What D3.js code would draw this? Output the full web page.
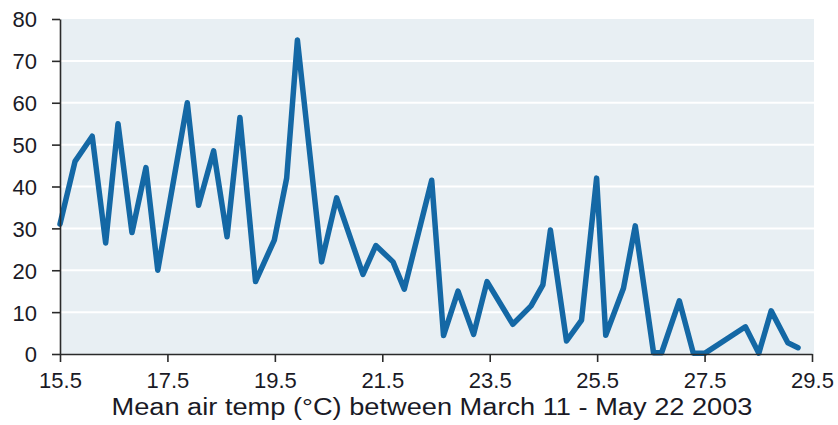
<!DOCTYPE html>
<html>
<head>
<meta charset="utf-8">
<script src="https://cdn.jsdelivr.net/npm/d3@7/dist/d3.min.js"></script>
<style>
  html, body { margin: 0; padding: 0; background: #ffffff; }
  svg { display: block; }
  .tick text { font-family: "Liberation Sans", Arial, sans-serif; fill: #1a1a26; }
</style>
</head>
<body>
<svg id="chart" width="838" height="425"></svg>
<script>
// Mean air temperature (°C) for each observation
const temps = [
  15.50, 15.78, 16.10, 16.35, 16.58, 16.84, 17.10, 17.32, 17.87, 18.08,
  18.36, 18.61, 18.85, 19.14, 19.49, 19.72, 19.92, 20.37, 20.65, 21.14,
  21.38, 21.70, 21.91, 22.42, 22.64, 22.91, 23.20, 23.45, 23.93, 24.27,
  24.49, 24.63, 24.93, 25.21, 25.49, 25.66, 25.99, 26.21, 26.55, 26.70,
  27.03, 27.29, 27.51, 28.26, 28.51, 28.74, 29.05, 29.24
];
// Measured response at each temperature
const values = [
  31, 46, 52, 26.5, 55, 29, 44.5, 20, 60, 35.5,
  48.5, 28, 56.5, 17.3, 27.2, 42, 75, 22, 37.3, 19,
  25.9, 22, 15.5, 41.5, 4.4, 15, 4.7, 17.3, 7.1, 11.5,
  16.5, 29.6, 3.1, 8.1, 42, 4.5, 15.7, 30.6, 0.3, 0.3,
  12.7, 0.2, 0.2, 6.5, 0.2, 10.3, 2.7, 1.5
];
const xTicks = [15.5, 17.5, 19.5, 21.5, 23.5, 25.5, 27.5, 29.5];
const yTicks = [0, 10, 20, 30, 40, 50, 60, 70, 80];
const xTitle = "Mean air temp (°C) between March 11 - May 22 2003";

const margin = { left: 60, right: 26, top: 19, bottom: 71 };
const W = 838, H = 425;
const svg = d3.select("#chart");

const x = d3.scaleLinear().domain([15.5, 29.5]).range([margin.left, W - margin.right]);
const y = d3.scaleLinear().domain([0, 80]).range([H - margin.bottom, margin.top]);

// plot background
svg.append("rect")
  .attr("x", x(15.5)).attr("y", y(80))
  .attr("width", x(29.5) - x(15.5) + 2)
  .attr("height", y(0) - y(80))
  .attr("fill", "#e8eff3");

// horizontal gridlines
svg.append("g")
  .selectAll("line")
  .data(yTicks.filter(d => d > 0 && d < 80))
  .join("line")
  .attr("x1", x(15.5)).attr("x2", x(29.5) + 2)
  .attr("y1", d => y(d)).attr("y2", d => y(d))
  .attr("stroke", "#ffffff").attr("stroke-width", 2);

// data line
const line = d3.line()
  .x((d, i) => x(temps[i]))
  .y(d => y(d));

svg.append("path")
  .datum(values)
  .attr("d", line)
  .attr("fill", "none")
  .attr("stroke", "#1468a5")
  .attr("stroke-width", 5.5)
  .attr("stroke-linejoin", "round")
  .attr("stroke-linecap", "round");

// y axis
const yAxis = svg.append("g")
  .attr("transform", `translate(${x(15.5)},0)`)
  .call(d3.axisLeft(y).tickValues(yTicks).tickSize(8).tickPadding(15).tickSizeOuter(0));
yAxis.select(".domain").attr("stroke", "#2a2a2a").attr("stroke-width", 1.6);
yAxis.selectAll(".tick line").attr("stroke", "#2a2a2a").attr("stroke-width", 1.6);
yAxis.selectAll(".tick text").attr("font-size", 22).attr("dy", "0.36em");

// x axis
const xAxis = svg.append("g")
  .attr("transform", `translate(0,${y(0)})`)
  .call(d3.axisBottom(x).tickValues(xTicks).tickFormat(d3.format(".1f")).tickSize(8).tickPadding(10).tickSizeOuter(0));
xAxis.select(".domain").attr("stroke", "#2a2a2a").attr("stroke-width", 1.6);
xAxis.selectAll(".tick line").attr("stroke", "#2a2a2a").attr("stroke-width", 1.6);
xAxis.selectAll(".tick text").attr("font-size", 22);

// axis title
svg.append("text")
  .attr("x", 432).attr("y", 415)
  .attr("text-anchor", "middle")
  .attr("font-family", "'Liberation Sans', Arial, sans-serif")
  .attr("font-size", 23)
  .attr("fill", "#1a1a26")
  .attr("textLength", 641)
  .attr("lengthAdjust", "spacingAndGlyphs")
  .text(xTitle);
</script>
</body>
</html>
